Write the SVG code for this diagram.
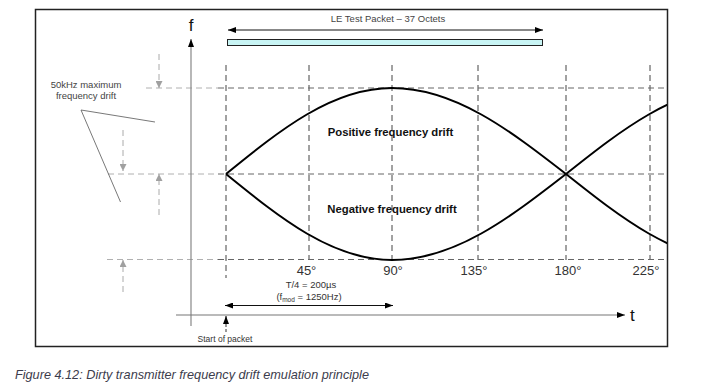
<svg xmlns="http://www.w3.org/2000/svg" width="705" height="391" viewBox="0 0 705 391">
<style>
text{font-family:"Liberation Sans",Arial,sans-serif}
.lbl{font-size:9.5px;fill:#444}
.deg{font-size:13px;fill:#333;text-anchor:middle}
.bold{font-size:11.3px;font-weight:bold;fill:#111;text-anchor:middle}
.vd{stroke:#444;stroke-width:1;stroke-dasharray:6,4;fill:none}
.hd{stroke:#666;stroke-width:1;stroke-dasharray:6,4;fill:none}
.ld{stroke:#b0b0b0;stroke-width:1;stroke-dasharray:6,4;fill:none}
.curve{stroke:#000;stroke-width:2;fill:none}
.blk{stroke:#111;stroke-width:1;fill:none}
</style>
<defs>
<marker id="ah" markerWidth="8" markerHeight="6" refX="8" refY="3" orient="auto" markerUnits="userSpaceOnUse"><path d="M0,0 L8,3 L0,6 Z" fill="#000"/></marker>
<marker id="as" markerWidth="8" markerHeight="6" refX="0" refY="3" orient="auto" markerUnits="userSpaceOnUse"><path d="M8,0 L0,3 L8,6 Z" fill="#000"/></marker>
<marker id="ga" markerWidth="7" markerHeight="7" refX="7" refY="3.5" orient="auto" markerUnits="userSpaceOnUse"><path d="M0,0 L7,3.5 L0,7 Z" fill="#a0a0a0"/></marker>
<clipPath id="frame"><rect x="35" y="9" width="632" height="338"/></clipPath>
</defs>
<rect width="705" height="391" fill="#fff"/>
<rect id="frame-box" x="35.5" y="9.5" width="632" height="337" fill="none" stroke="#222" stroke-width="1.5"/>

<g id="grid">
<line class="vd" x1="226" y1="65" x2="226" y2="278"/>
<line class="vd" x1="309" y1="65" x2="309" y2="260"/>
<line class="vd" x1="392" y1="65" x2="392" y2="260"/>
<line class="vd" x1="478" y1="65" x2="478" y2="260"/>
<line class="vd" x1="566" y1="65" x2="566" y2="260"/>
<line class="vd" x1="650" y1="65" x2="650" y2="260"/>
<line class="ld" x1="146" y1="88" x2="218" y2="88"/>
<line class="hd" x1="218" y1="88" x2="664" y2="88"/>
<line class="ld" x1="108" y1="174" x2="218" y2="174"/>
<line class="hd" x1="218" y1="174" x2="664" y2="174"/>
<line class="ld" x1="107" y1="259.5" x2="218" y2="259.5"/>
<line class="hd" x1="218" y1="259.5" x2="664" y2="259.5"/>
</g>

<g id="axes">
<line x1="191" y1="326" x2="191" y2="39" stroke="#888" stroke-width="1.2" marker-end="url(#ah)"/>
<text x="191" y="31" font-size="17" text-anchor="middle" fill="#111">f</text>
<line x1="176" y1="315" x2="625" y2="315" stroke="#777" stroke-width="1.2" marker-end="url(#ah)"/>
<text x="630" y="321" font-size="17" fill="#111">t</text>
</g>

<g id="curves" clip-path="url(#frame)">
<path id="positive" class="curve" d="M226,174 C280.1,130 332.1,88 392,88 C454.8,88 509.3,130 566,174 C621.4,218 674.6,260 736,260"/>
<path id="negative" class="curve" d="M226,174 C280.1,218 332.1,260 392,260 C454.8,260 509.3,218 566,174 C621.4,130 674.6,88 736,88"/>
</g>
<text class="bold" x="390.5" y="135.5">Positive frequency drift</text>
<text class="bold" x="392" y="212.5">Negative frequency drift</text>

<g id="packet">
<text class="lbl" x="388" y="21.5" text-anchor="middle">LE Test Packet – 37 Octets</text>
<line class="blk" x1="228" y1="30" x2="543" y2="30" marker-start="url(#as)" marker-end="url(#ah)"/>
<rect x="227.5" y="39.5" width="315" height="6" fill="#c8f4f4" stroke="#222" stroke-width="1"/>
</g>

<g id="degrees">
<text class="deg" x="306.5" y="274.5">45°</text>
<text class="deg" x="393" y="274.5">90°</text>
<text class="deg" x="474" y="274.5">135°</text>
<text class="deg" x="568" y="274.5">180°</text>
<text class="deg" x="646" y="274.5">225°</text>
</g>

<g id="period">
<text x="311" y="288" font-size="9.5" fill="#333" text-anchor="middle">T/4 = 200µs</text>
<text x="309" y="300" font-size="9.5" fill="#333" text-anchor="middle">(f<tspan font-size="6.5" dy="1.5">mod</tspan><tspan dy="-1.5"> = 1250Hz)</tspan></text>
<line class="blk" x1="225" y1="305.5" x2="393" y2="305.5" marker-start="url(#as)" marker-end="url(#ah)"/>
</g>

<g id="start">
<line x1="226" y1="332" x2="226" y2="323" stroke="#333" stroke-width="1" stroke-dasharray="3,2"/>
<line x1="226" y1="323" x2="226" y2="316" stroke="#111" stroke-width="1" marker-end="url(#ah)"/>
<text x="225" y="341.5" font-size="8.5" fill="#333" text-anchor="middle">Start of packet</text>
</g>

<g id="drift-label">
<text class="lbl" x="86" y="87.5" text-anchor="middle">50kHz maximum</text>
<text class="lbl" x="86" y="98.5" text-anchor="middle">frequency drift</text>
<line x1="81" y1="110" x2="155" y2="122" stroke="#555" stroke-width="0.8"/>
<line x1="81" y1="110" x2="120.5" y2="202" stroke="#555" stroke-width="0.8"/>
</g>

<g id="drift-arrows" stroke="#aaa" stroke-width="1" stroke-dasharray="6,4" fill="none">
<line x1="159" y1="54" x2="159" y2="88" marker-end="url(#ga)"/>
<line x1="159" y1="215" x2="159" y2="174" marker-end="url(#ga)"/>
<line x1="123" y1="130" x2="123" y2="171" marker-end="url(#ga)"/>
<line x1="123" y1="292" x2="123" y2="260" marker-end="url(#ga)"/>
</g>

<text x="15" y="378.5" font-size="12.7" font-style="italic" fill="#3c3c4c">Figure 4.12: Dirty transmitter frequency drift emulation principle</text>
</svg>
